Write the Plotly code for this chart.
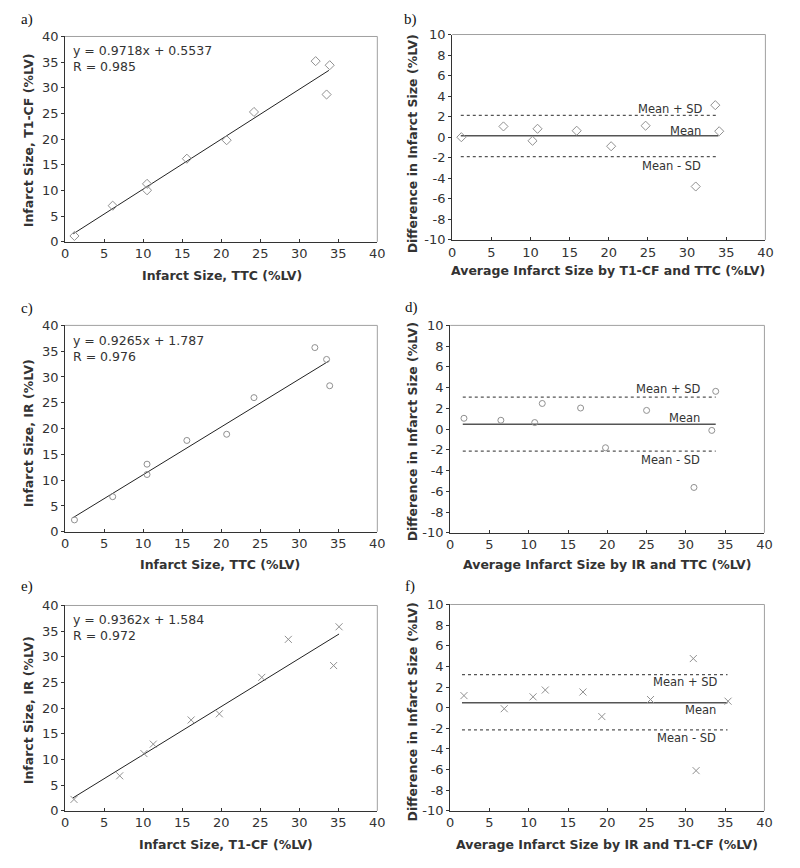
import plotly.graph_objects as go

W, H = 800, 868

# ---------------- data ----------------
# a) T1-CF vs TTC
a_ttc = [1.2, 6.1, 10.5, 10.5, 15.6, 20.7, 24.2, 32.1, 33.9, 33.5]
a_t1cf = [1.15, 7.05, 11.3, 10.05, 16.2, 19.8, 25.3, 35.2, 34.4, 28.7]
a_slope, a_icpt, a_r = 0.9718, 0.5537, 0.985
a_fit_x = [1.05, 33.8]

# b) Bland-Altman T1-CF vs TTC
b_avg = [1.17, 6.55, 10.26, 10.9, 15.9, 20.3, 24.7, 31.1, 33.6, 34.1]
b_diff = [0.0, 1.05, -0.35, 0.82, 0.63, -0.88, 1.12, -4.8, 3.12, 0.58]
b_mean, b_sd_hi, b_sd_lo = 0.14, 2.12, -1.89
b_line_x = [1.1, 34.0]

# c) IR vs TTC
c_ttc = [1.2, 6.1, 10.5, 10.5, 15.6, 20.7, 24.2, 32.0, 33.5, 33.9]
c_ir = [2.3, 6.8, 13.1, 11.1, 17.7, 18.9, 26.0, 35.7, 33.4, 28.3]
c_slope, c_icpt, c_r = 0.9265, 1.787, 0.976
c_fit_x = [1.05, 33.8]

# d) Bland-Altman IR vs TTC
d_avg = [1.75, 6.45, 10.76, 11.72, 16.6, 19.77, 25.0, 31.03, 33.3, 33.8]
d_diff = [1.04, 0.85, 0.63, 2.47, 2.03, -1.80, 1.80, -5.63, -0.13, 3.64]
d_mean, d_sd_hi, d_sd_lo = 0.47, 3.08, -2.12
d_line_x = [1.6, 33.8]

# e) IR vs T1-CF
e_t1cf = [1.14, 7.0, 10.1, 11.3, 16.15, 19.76, 25.2, 28.6, 34.4, 35.1]
e_ir = [2.23, 6.83, 11.16, 13.0, 17.7, 18.9, 26.0, 33.4, 28.3, 35.85]
e_slope, e_icpt, e_r = 0.9362, 1.584, 0.972
e_fit_x = [1.0, 35.1]

# f) Bland-Altman IR vs T1-CF
f_avg = [1.75, 6.88, 10.55, 12.1, 16.9, 19.3, 25.5, 30.95, 31.3, 35.37]
f_diff = [1.17, -0.1, 1.05, 1.71, 1.52, -0.86, 0.79, 4.76, -6.1, 0.63]
f_mean, f_sd_hi, f_sd_lo = 0.48, 3.2, -2.16
f_line_x = [1.5, 35.3]

scatter_ticks = [0, 5, 10, 15, 20, 25, 30, 35, 40]
diff_ticks = [-10, -8, -6, -4, -2, 0, 2, 4, 6, 8, 10]
diff_ticktext = ["-10", "-8", "-6", "-4", "-2", "0", "2", "4", "6", "8", "10"]

# ---------------- layout geometry (pixels) ----------------
panels = {
    1: dict(x0=62, x1=379, y0=30, y1=239),
    2: dict(x0=455, x1=773, y0=28, y1=237),
    3: dict(x0=62, x1=379, y0=324, y1=534),
    4: dict(x0=453, x1=772, y0=324, y1=535),
    5: dict(x0=62, x1=379, y0=609, y1=818),
    6: dict(x0=453, x1=772, y0=608, y1=818),
}

FONT = "DejaVu Sans"
TXT = "#333333"
MK = "#909090"


def px(x):
    return x / W


def py(y):
    return 1 - y / H


fig = go.Figure()
layout = dict(
    width=W, height=H, margin=dict(l=0, r=0, t=0, b=0),
    paper_bgcolor="white", plot_bgcolor="white", showlegend=False,
    font=dict(family=FONT, size=12, color=TXT),
)
annotations = []
shapes = []


def ax_name(i, kind):
    return kind + ("" if i == 1 else str(i))


for i, p in panels.items():
    scatter = i in (1, 3, 5)
    layout[ax_name(i, "xaxis")] = dict(
        domain=[px(p["x0"]), px(p["x1"])], range=[0, 40], tickvals=scatter_ticks,
        anchor=ax_name(i, "y"), showgrid=False, zeroline=False,
        showline=True, linecolor="#333333", linewidth=1,
        ticks="inside", ticklen=3, tickcolor="#333333",
        tickfont=dict(family=FONT, size=13, color=TXT), fixedrange=True,
    )
    layout[ax_name(i, "yaxis")] = dict(
        domain=[py(p["y1"]), py(p["y0"])],
        range=[0, 40] if scatter else [-10, 10],
        tickvals=scatter_ticks if scatter else diff_ticks,
        ticktext=[str(v) for v in scatter_ticks] if scatter else diff_ticktext,
        anchor=ax_name(i, "x"), showgrid=False, zeroline=False,
        showline=True, linecolor="#333333", linewidth=1,
        ticks="outside", ticklen=3, tickcolor="#333333",
        tickfont=dict(family=FONT, size=13, color=TXT), fixedrange=True,
    )
    # light frame on top/right
    shapes.append(dict(type="line", xref=ax_name(i, "x") + " domain", yref=ax_name(i, "y") + " domain",
                       x0=0, x1=1, y0=1, y1=1, line=dict(color="#a0a0a0", width=1)))
    shapes.append(dict(type="line", xref=ax_name(i, "x") + " domain", yref=ax_name(i, "y") + " domain",
                       x0=1, x1=1, y0=0, y1=1, line=dict(color="#a0a0a0", width=1)))


def add_scatter(i, xs, ys, symbol, size):
    fig.add_trace(go.Scatter(
        x=xs, y=ys, mode="markers",
        xaxis=ax_name(i, "x"), yaxis=ax_name(i, "y"),
        marker=dict(symbol=symbol, size=size, color=MK, line=dict(color=MK, width=1)),
    ))


def add_fit(i, fx, slope, icpt):
    fig.add_trace(go.Scatter(
        x=fx, y=[slope * v + icpt for v in fx], mode="lines",
        xaxis=ax_name(i, "x"), yaxis=ax_name(i, "y"),
        line=dict(color="#222222", width=1),
    ))


def add_ba_lines(i, lx, mean, hi, lo):
    fig.add_trace(go.Scatter(x=lx, y=[mean, mean], mode="lines",
                             xaxis=ax_name(i, "x"), yaxis=ax_name(i, "y"),
                             line=dict(color="#555555", width=1.6)))
    for v in (hi, lo):
        fig.add_trace(go.Scatter(x=lx, y=[v, v], mode="lines",
                                 xaxis=ax_name(i, "x"), yaxis=ax_name(i, "y"),
                                 line=dict(color="#555555", width=1.2, dash="dot")))


# panels
add_fit(1, a_fit_x, a_slope, a_icpt)
add_scatter(1, a_ttc, a_t1cf, "diamond-open", 7)
add_ba_lines(2, b_line_x, b_mean, b_sd_hi, b_sd_lo)
add_scatter(2, b_avg, b_diff, "diamond-open", 7)
add_fit(3, c_fit_x, c_slope, c_icpt)
add_scatter(3, c_ttc, c_ir, "circle-open", 6)
add_ba_lines(4, d_line_x, d_mean, d_sd_hi, d_sd_lo)
add_scatter(4, d_avg, d_diff, "circle-open", 6)
add_fit(5, e_fit_x, e_slope, e_icpt)
add_scatter(5, e_t1cf, e_ir, "x-thin-open", 7)
add_ba_lines(6, f_line_x, f_mean, f_sd_hi, f_sd_lo)
add_scatter(6, f_avg, f_diff, "x-thin-open", 7)


def ann_px(text, x, y, size=12, bold=False, angle=0, xanchor="center", yanchor="middle", family=FONT, color=TXT, align="left"):
    annotations.append(dict(
        text=("<b>%s</b>" % text) if bold else text,
        x=px(x), y=py(y), xref="paper", yref="paper",
        xanchor=xanchor, yanchor=yanchor, showarrow=False, textangle=angle,
        font=dict(family=family, size=size, color=color), align=align,
    ))


def ann_data(i, text, x, y, size=11.5):
    annotations.append(dict(
        text=text, x=x, y=y, xref=ax_name(i, "x"), yref=ax_name(i, "y"),
        xanchor="center", yanchor="middle", showarrow=False,
        font=dict(family=FONT, size=size, color=TXT),
    ))


# panel letters
for lab, x, y in [("a)", 23, 13), ("b)", 413, 13), ("c)", 23, 307), ("d)", 414, 306),
                  ("e)", 23, 590), ("f)", 412, 590)]:
    ann_px(lab, x, y, size=15, family="Liberation Serif", color="#111111")

TS = 12.5
# axis titles
ann_px("Infarct Size, TTC (%LV)", 221, 273, size=TS, bold=True)
ann_px("Infarct Size, T1-CF (%LV)", 25, 136, size=TS, bold=True, angle=-90)
ann_px("Average Infarct Size by T1-CF and TTC (%LV)", 613, 268, size=TS, bold=True)
ann_px("Difference in Infarct Size (%LV)", 415, 139, size=TS, bold=True, angle=-90)
ann_px("Infarct Size, TTC (%LV)", 219, 567, size=TS, bold=True)
ann_px("Infarct Size, IR (%LV)", 25, 434, size=TS, bold=True, angle=-90)
ann_px("Average Infarct Size by IR and TTC (%LV)", 612, 567, size=TS, bold=True)
ann_px("Difference in Infarct Size (%LV)", 415, 432, size=TS, bold=True, angle=-90)
ann_px("Infarct Size, T1-CF (%LV)", 225, 852, size=TS, bold=True)
ann_px("Infarct Size, IR (%LV)", 25, 716, size=TS, bold=True, angle=-90)
ann_px("Average Infarct Size by IR and T1-CF (%LV)", 612, 852, size=TS, bold=True)
ann_px("Difference in Infarct Size (%LV)", 415, 717, size=TS, bold=True, angle=-90)

# equations
ann_px("y = %.4fx + %.4f<br>R = %.3f" % (a_slope, a_icpt, a_r), 68, 35, size=12.5, xanchor="left", yanchor="top")
ann_px("y = %.4fx + %.3f<br>R = %.3f" % (c_slope, c_icpt, c_r), 68, 330, size=12.5, xanchor="left", yanchor="top")
ann_px("y = %.4fx + %.3f<br>R = %.3f" % (e_slope, e_icpt, e_r), 68, 614, size=12.5, xanchor="left", yanchor="top")

# Bland-Altman labels
ann_data(2, "Mean + SD", 27.85, 2.7)
ann_data(2, "Mean", 29.8, 0.65)
ann_data(2, "Mean - SD", 28.06, -2.85)
ann_data(4, "Mean + SD", 27.8, 3.83)
ann_data(4, "Mean", 29.8, 1.08)
ann_data(4, "Mean - SD", 28.0, -3.0)
ann_data(6, "Mean + SD", 29.9, 2.48)
ann_data(6, "Mean", 31.9, -0.25)
ann_data(6, "Mean - SD", 30.1, -2.95)

layout["annotations"] = annotations
layout["shapes"] = shapes
fig.update_layout(**layout)
fig.write_html("out.html", config={"displayModeBar": False},
               post_script="document.body.style.margin='0';document.body.style.overflow='hidden';")
